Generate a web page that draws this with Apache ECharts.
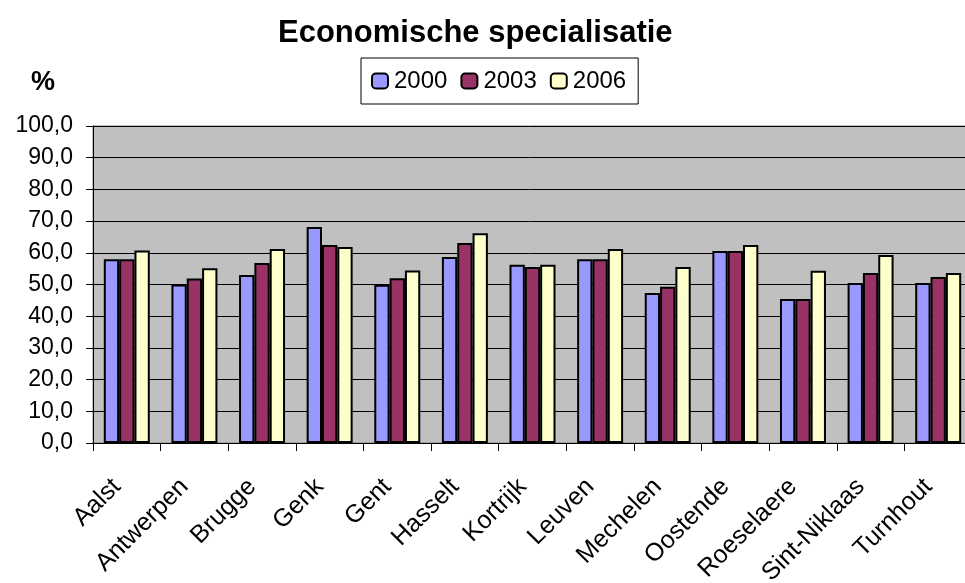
<!DOCTYPE html>
<html>
<head>
<meta charset="utf-8">
<script src="https://cdn.jsdelivr.net/npm/echarts@6/dist/echarts.min.js"></script>
<style>html,body{margin:0;padding:0;background:#fff}#c{width:965px;height:583px}</style>
</head>
<body>
<div id="c"></div>
<script>
var categories = ['Aalst','Antwerpen','Brugge','Genk','Gent','Hasselt','Kortrijk','Leuven','Mechelen','Oostende','Roeselaere','Sint-Niklaas','Turnhout'];
var seriesNames = ['2000','2003','2006'];
var values2000 = [58.0, 50.0, 53.0, 68.1, 49.9, 58.7, 56.2, 58.0, 47.3, 60.6, 45.4, 50.5, 50.5];
var values2003 = [58.0, 51.9, 56.8, 62.5, 52.0, 63.1, 55.5, 58.0, 49.3, 60.6, 45.4, 53.6, 52.4];
var values2006 = [60.7, 55.1, 61.2, 61.8, 54.4, 66.2, 56.2, 61.2, 55.5, 62.5, 54.3, 59.3, 53.6];
var colors = ['#9999FF','#993366','#FFFFCC'];

var FONT = 'Arial, "Liberation Sans", sans-serif';
var chart = echarts.init(document.getElementById('c'));
var data = [values2000, values2003, values2006];
chart.setOption({
  backgroundColor: '#fff',
  animation: false,
  title: {
    text: 'Economische specialisatie',
    left: 273, top: 13,
    textStyle: {fontFamily: FONT, fontSize: 31, fontWeight: 'bold', color: '#000'}
  },
  graphic: [{
    type: 'text', left: 31, top: 69,
    style: {text: '%', font: 'bold 27px Arial, "Liberation Sans", sans-serif', fill: '#000'}
  }],
  legend: {
    left: 361, top: 58,
    padding: [11, 12, 11, 10],
    borderColor: '#000', borderWidth: 1,
    itemWidth: 16, itemHeight: 15, itemGap: 13,
    textStyle: {fontFamily: FONT, fontSize: 24, color: '#000', padding: [0,0,0,1]},
    data: seriesNames
  },
  grid: {
    left: 93, right: -7, top: 126, bottom: 140,
    outerBoundsMode: 'none', containLabel: false,
    show: true, backgroundColor: '#C0C0C0', borderColor: '#808080', borderWidth: 1
  },
  xAxis: {
    type: 'category', data: categories,
    axisLine: {lineStyle: {color: '#000', width: 1}},
    axisTick: {show: true, length: 8, lineStyle: {color: '#000'}},
    axisLabel: {rotate: 45, margin: 30, padding: [0, 14, 0, 0], fontFamily: FONT, fontSize: 25, color: '#000', interval: 0}
  },
  yAxis: {
    type: 'value', min: 0, max: 100, interval: 10,
    axisLine: {show: true, lineStyle: {color: '#000', width: 1}},
    axisTick: {show: true, length: 7, lineStyle: {color: '#000'}},
    splitLine: {lineStyle: {color: '#000', width: 1}},
    axisLabel: {margin: 20, fontFamily: FONT, fontSize: 23, color: '#000',
      formatter: function (v) { return v.toFixed(1).replace('.', ','); }}
  },
  series: seriesNames.map(function (n, i) {
    return {
      name: n, type: 'bar', data: data[i],
      barGap: '0%', barCategoryGap: '32%',
      itemStyle: {color: colors[i], borderColor: '#000', borderWidth: 2}
    };
  })
});
</script>
</body>
</html>
